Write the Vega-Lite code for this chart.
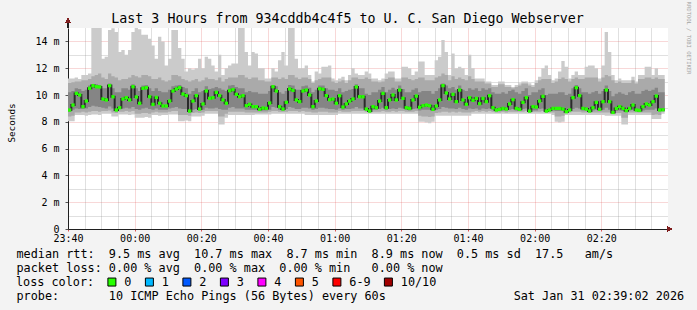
{
"$schema": "https://vega.github.io/schema/vega-lite/v6.json",
"autosize": {"type": "none"},
"padding": {"left": 68, "top": 28, "right": 29, "bottom": 81},
"width": 600,
"height": 201,
"background": "#f3f3f3",
"title": {"text": "Last 3 Hours from 934cddb4c4f5 to U. C. San Diego Webserver", "font": "DejaVu Sans Mono", "fontSize": 13.3, "fontWeight": "normal", "color": "#000000", "anchor": "middle", "frame": "group", "dx": -20.5, "offset": -35, "baseline": "alphabetic"},
"config": {
  "view": {"fill": "#ffffff", "stroke": null},
  "axis": {"labelFont": "DejaVu Sans Mono", "labelFontSize": 10, "labelColor": "#000000", "titleFont": "DejaVu Sans Mono", "titleFontWeight": "normal", "titleColor": "#000000"}
},
"data": {"values": [
{"m":0,"a":8.05,"b":8.4,"c":8.75,"d":10.2,"e":10.9,"f":11.24,"g":8.88},
{"m":1,"a":8.05,"b":8.45,"c":8.9,"d":10.3,"e":10.95,"f":11.24,"g":9.25},
{"m":2,"a":8.5,"b":8.7,"c":9.0,"d":10.5,"e":11.0,"f":11.3,"g":10.12},
{"m":3,"a":8.5,"b":8.7,"c":8.95,"d":10.45,"e":11.0,"f":11.2,"g":10.0},
{"m":4,"a":8.5,"b":8.75,"c":8.95,"d":10.3,"e":11.1,"f":11.5,"g":9.13},
{"m":5,"a":8.45,"b":8.7,"c":9.0,"d":10.4,"e":11.1,"f":11.5,"g":9.55},
{"m":6,"a":8.5,"b":8.75,"c":9.1,"d":10.7,"e":11.2,"f":11.6,"g":10.5},
{"m":7,"a":8.55,"b":8.8,"c":9.2,"d":10.8,"e":11.4,"f":15.0,"g":10.7},
{"m":8,"a":8.55,"b":8.8,"c":9.15,"d":10.8,"e":11.5,"f":15.0,"g":10.62},
{"m":9,"a":8.5,"b":8.75,"c":9.1,"d":10.75,"e":11.6,"f":15.0,"g":10.6},
{"m":10,"a":8.6,"b":8.8,"c":9.05,"d":10.5,"e":11.3,"f":12.7,"g":9.7},
{"m":11,"a":8.6,"b":8.8,"c":9.0,"d":10.5,"e":11.2,"f":12.85,"g":9.63},
{"m":12,"a":8.6,"b":8.85,"c":9.15,"d":10.85,"e":11.6,"f":14.85,"g":10.7},
{"m":13,"a":8.4,"b":8.7,"c":9.0,"d":10.5,"e":11.4,"f":14.98,"g":9.87},
{"m":14,"a":8.4,"b":8.65,"c":8.8,"d":10.2,"e":11.3,"f":14.7,"g":8.88},
{"m":15,"a":8.55,"b":8.75,"c":8.95,"d":10.2,"e":11.1,"f":13.2,"g":9.05},
{"m":16,"a":8.55,"b":8.75,"c":9.0,"d":10.5,"e":11.2,"f":13.35,"g":9.7},
{"m":17,"a":8.55,"b":8.8,"c":9.05,"d":10.5,"e":11.2,"f":13.0,"g":9.8},
{"m":18,"a":8.5,"b":8.75,"c":9.0,"d":10.4,"e":11.3,"f":13.35,"g":9.63},
{"m":19,"a":8.55,"b":8.8,"c":9.1,"d":10.8,"e":11.5,"f":14.7,"g":10.62},
{"m":20,"a":8.3,"b":8.6,"c":8.95,"d":10.5,"e":11.4,"f":15.0,"g":9.85},
{"m":21,"a":8.3,"b":8.6,"c":8.9,"d":10.3,"e":11.3,"f":14.9,"g":9.38},
{"m":22,"a":8.3,"b":8.65,"c":9.0,"d":10.7,"e":11.5,"f":14.5,"g":10.5},
{"m":23,"a":8.35,"b":8.65,"c":9.05,"d":10.75,"e":11.5,"f":14.5,"g":10.55},
{"m":24,"a":8.3,"b":8.6,"c":8.95,"d":10.5,"e":11.4,"f":14.2,"g":9.87},
{"m":25,"a":8.5,"b":8.7,"c":8.9,"d":10.3,"e":11.2,"f":13.7,"g":9.3},
{"m":26,"a":8.5,"b":8.75,"c":9.0,"d":10.5,"e":11.2,"f":12.7,"g":9.82},
{"m":27,"a":8.45,"b":8.7,"c":8.9,"d":10.3,"e":11.3,"f":14.35,"g":9.38},
{"m":28,"a":8.5,"b":8.7,"c":8.9,"d":10.2,"e":11.1,"f":14.0,"g":9.18},
{"m":29,"a":8.5,"b":8.7,"c":8.9,"d":10.2,"e":11.0,"f":12.2,"g":9.18},
{"m":30,"a":8.55,"b":8.75,"c":9.0,"d":10.4,"e":11.1,"f":12.7,"g":9.55},
{"m":31,"a":8.55,"b":8.8,"c":9.05,"d":10.65,"e":11.5,"f":14.85,"g":10.3},
{"m":32,"a":8.55,"b":8.8,"c":9.1,"d":10.7,"e":11.5,"f":14.85,"g":10.45},
{"m":33,"a":8.05,"b":8.5,"c":9.0,"d":10.75,"e":11.4,"f":13.5,"g":10.55},
{"m":34,"a":8.05,"b":8.5,"c":8.95,"d":10.6,"e":11.2,"f":12.7,"g":10.07},
{"m":35,"a":8.1,"b":8.5,"c":8.95,"d":10.5,"e":11.1,"f":11.75,"g":9.95},
{"m":36,"a":8.05,"b":8.45,"c":8.7,"d":10.1,"e":11.0,"f":12.0,"g":8.8},
{"m":37,"a":8.4,"b":8.65,"c":8.9,"d":10.3,"e":11.1,"f":11.9,"g":9.55},
{"m":38,"a":8.4,"b":8.7,"c":8.95,"d":10.5,"e":11.2,"f":12.0,"g":9.95},
{"m":39,"a":8.4,"b":8.65,"c":8.85,"d":10.2,"e":11.0,"f":12.7,"g":8.95},
{"m":40,"a":8.45,"b":8.7,"c":8.9,"d":10.3,"e":11.1,"f":12.0,"g":9.33},
{"m":41,"a":8.6,"b":8.8,"c":9.05,"d":10.65,"e":11.3,"f":12.85,"g":10.3},
{"m":42,"a":8.6,"b":8.8,"c":9.0,"d":10.45,"e":11.2,"f":12.7,"g":9.75},
{"m":43,"a":8.6,"b":8.8,"c":9.0,"d":10.5,"e":11.2,"f":12.2,"g":9.8},
{"m":44,"a":8.6,"b":8.8,"c":9.05,"d":10.6,"e":11.1,"f":11.75,"g":10.2},
{"m":45,"a":7.8,"b":8.4,"c":8.95,"d":10.5,"e":11.3,"f":13.0,"g":9.95},
{"m":46,"a":7.8,"b":8.4,"c":8.9,"d":10.4,"e":11.0,"f":11.5,"g":9.63},
{"m":47,"a":8.3,"b":8.6,"c":8.9,"d":10.3,"e":11.2,"f":12.0,"g":9.38},
{"m":48,"a":8.5,"b":8.75,"c":9.05,"d":10.7,"e":11.3,"f":12.2,"g":10.32},
{"m":49,"a":8.5,"b":8.75,"c":9.1,"d":10.75,"e":11.3,"f":12.35,"g":10.4},
{"m":50,"a":8.5,"b":8.75,"c":9.0,"d":10.6,"e":11.3,"f":12.35,"g":10.05},
{"m":51,"a":8.5,"b":8.75,"c":9.0,"d":10.5,"e":11.5,"f":15.0,"g":9.87},
{"m":52,"a":8.5,"b":8.75,"c":9.0,"d":10.5,"e":11.5,"f":15.0,"g":9.95},
{"m":53,"a":8.5,"b":8.7,"c":8.9,"d":10.2,"e":11.3,"f":13.2,"g":9.2},
{"m":54,"a":8.5,"b":8.7,"c":8.9,"d":10.3,"e":11.2,"f":12.2,"g":9.3},
{"m":55,"a":8.5,"b":8.7,"c":8.9,"d":10.2,"e":11.3,"f":13.2,"g":9.13},
{"m":56,"a":8.55,"b":8.7,"c":8.9,"d":10.2,"e":11.3,"f":13.1,"g":9.13},
{"m":57,"a":8.55,"b":8.7,"c":8.8,"d":10.1,"e":11.1,"f":12.0,"g":8.93},
{"m":58,"a":8.55,"b":8.7,"c":8.85,"d":10.1,"e":11.1,"f":12.0,"g":9.03},
{"m":59,"a":8.55,"b":8.7,"c":8.85,"d":10.1,"e":11.0,"f":11.24,"g":9.0},
{"m":60,"a":8.55,"b":8.75,"c":8.9,"d":10.3,"e":11.0,"f":11.24,"g":9.4},
{"m":61,"a":8.6,"b":8.8,"c":9.1,"d":10.75,"e":11.3,"f":12.0,"g":10.62},
{"m":62,"a":8.6,"b":8.8,"c":9.05,"d":10.65,"e":11.3,"f":11.75,"g":10.3},
{"m":63,"a":8.6,"b":8.75,"c":8.9,"d":10.2,"e":11.2,"f":12.6,"g":9.13},
{"m":64,"a":8.6,"b":8.75,"c":8.85,"d":10.1,"e":11.3,"f":13.2,"g":8.95},
{"m":65,"a":8.6,"b":8.75,"c":8.95,"d":10.3,"e":11.2,"f":12.2,"g":9.45},
{"m":66,"a":8.6,"b":8.8,"c":9.1,"d":10.75,"e":11.5,"f":15.0,"g":10.45},
{"m":67,"a":8.6,"b":8.8,"c":9.05,"d":10.7,"e":11.5,"f":15.0,"g":10.35},
{"m":68,"a":8.6,"b":8.8,"c":8.95,"d":10.4,"e":11.3,"f":12.7,"g":9.63},
{"m":69,"a":8.6,"b":8.75,"c":8.95,"d":10.4,"e":11.2,"f":12.0,"g":9.5},
{"m":70,"a":8.6,"b":8.8,"c":9.05,"d":10.65,"e":11.3,"f":12.0,"g":10.3},
{"m":71,"a":8.5,"b":8.75,"c":9.05,"d":10.7,"e":11.3,"f":12.2,"g":10.37},
{"m":72,"a":8.5,"b":8.75,"c":9.0,"d":10.55,"e":11.2,"f":11.5,"g":10.0},
{"m":73,"a":8.5,"b":8.7,"c":8.9,"d":10.2,"e":10.9,"f":11.0,"g":9.13},
{"m":74,"a":8.5,"b":8.7,"c":8.95,"d":10.4,"e":11.1,"f":11.75,"g":9.55},
{"m":75,"a":8.5,"b":8.75,"c":9.05,"d":10.7,"e":11.2,"f":11.6,"g":10.47},
{"m":76,"a":8.5,"b":8.75,"c":9.05,"d":10.7,"e":11.3,"f":12.1,"g":10.42},
{"m":77,"a":8.5,"b":8.75,"c":9.0,"d":10.5,"e":11.3,"f":12.1,"g":9.95},
{"m":78,"a":8.5,"b":8.7,"c":8.95,"d":10.4,"e":11.3,"f":12.2,"g":9.65},
{"m":79,"a":8.5,"b":8.7,"c":8.95,"d":10.4,"e":11.0,"f":11.24,"g":9.7},
{"m":80,"a":8.5,"b":8.7,"c":8.9,"d":10.3,"e":10.9,"f":11.1,"g":9.38},
{"m":81,"a":8.6,"b":8.8,"c":9.0,"d":10.5,"e":11.0,"f":11.24,"g":9.95},
{"m":82,"a":8.6,"b":8.75,"c":8.9,"d":10.2,"e":11.1,"f":11.37,"g":9.1},
{"m":83,"a":8.6,"b":8.75,"c":8.95,"d":10.3,"e":10.9,"f":11.1,"g":9.33},
{"m":84,"a":8.6,"b":8.75,"c":8.95,"d":10.4,"e":11.1,"f":11.5,"g":9.55},
{"m":85,"a":8.6,"b":8.8,"c":9.0,"d":10.45,"e":11.3,"f":12.0,"g":9.7},
{"m":86,"a":8.6,"b":8.8,"c":9.1,"d":10.8,"e":11.3,"f":11.6,"g":10.6},
{"m":87,"a":8.6,"b":8.8,"c":9.0,"d":10.5,"e":11.2,"f":11.5,"g":9.87},
{"m":88,"a":8.6,"b":8.8,"c":9.0,"d":10.5,"e":11.2,"f":11.5,"g":9.87},
{"m":89,"a":8.6,"b":8.75,"c":8.85,"d":10.1,"e":11.3,"f":11.75,"g":8.95},
{"m":90,"a":8.6,"b":8.7,"c":8.75,"d":10.0,"e":11.2,"f":11.6,"g":8.8},
{"m":91,"a":8.6,"b":8.75,"c":8.9,"d":10.2,"e":11.0,"f":11.24,"g":9.13},
{"m":92,"a":8.6,"b":8.75,"c":8.9,"d":10.2,"e":11.0,"f":11.24,"g":9.05},
{"m":93,"a":8.6,"b":8.75,"c":8.95,"d":10.4,"e":10.95,"f":11.1,"g":9.55},
{"m":94,"a":8.6,"b":8.8,"c":9.05,"d":10.6,"e":11.0,"f":11.24,"g":10.12},
{"m":95,"a":8.6,"b":8.75,"c":8.9,"d":10.2,"e":11.2,"f":11.6,"g":9.05},
{"m":96,"a":8.6,"b":8.75,"c":8.95,"d":10.4,"e":11.3,"f":11.75,"g":9.63},
{"m":97,"a":8.6,"b":8.8,"c":9.0,"d":10.55,"e":11.3,"f":11.75,"g":10.0},
{"m":98,"a":8.6,"b":8.75,"c":8.95,"d":10.4,"e":11.0,"f":11.24,"g":9.63},
{"m":99,"a":8.6,"b":8.8,"c":9.05,"d":10.7,"e":11.0,"f":11.24,"g":10.37},
{"m":100,"a":8.6,"b":8.8,"c":9.0,"d":10.45,"e":11.3,"f":12.1,"g":9.75},
{"m":101,"a":8.6,"b":8.75,"c":8.9,"d":10.2,"e":11.3,"f":12.1,"g":9.05},
{"m":102,"a":8.6,"b":8.75,"c":8.85,"d":10.2,"e":11.2,"f":12.0,"g":9.0},
{"m":103,"a":8.6,"b":8.75,"c":8.95,"d":10.4,"e":11.1,"f":11.5,"g":9.63},
{"m":104,"a":8.6,"b":8.8,"c":9.0,"d":10.5,"e":11.2,"f":11.75,"g":9.92},
{"m":105,"a":8.0,"b":8.45,"c":8.85,"d":10.2,"e":11.3,"f":12.5,"g":9.08},
{"m":106,"a":8.0,"b":8.4,"c":8.9,"d":10.3,"e":11.3,"f":12.5,"g":9.2},
{"m":107,"a":7.95,"b":8.4,"c":8.9,"d":10.3,"e":11.1,"f":11.5,"g":9.25},
{"m":108,"a":7.9,"b":8.35,"c":8.9,"d":10.3,"e":11.1,"f":11.5,"g":9.2},
{"m":109,"a":8.0,"b":8.4,"c":8.8,"d":10.1,"e":11.1,"f":11.5,"g":8.93},
{"m":110,"a":8.45,"b":8.65,"c":8.9,"d":10.3,"e":11.3,"f":12.6,"g":9.18},
{"m":111,"a":8.45,"b":8.7,"c":8.95,"d":10.5,"e":11.4,"f":12.85,"g":9.63},
{"m":112,"a":8.45,"b":8.75,"c":9.1,"d":10.85,"e":11.6,"f":14.1,"g":10.7},
{"m":113,"a":8.45,"b":8.75,"c":9.05,"d":10.7,"e":11.5,"f":13.2,"g":10.15},
{"m":114,"a":8.45,"b":8.7,"c":9.0,"d":10.5,"e":11.1,"f":11.5,"g":9.7},
{"m":115,"a":8.45,"b":8.75,"c":9.0,"d":10.6,"e":11.4,"f":13.1,"g":10.05},
{"m":116,"a":8.45,"b":8.7,"c":8.95,"d":10.4,"e":11.2,"f":12.0,"g":9.5},
{"m":117,"a":8.45,"b":8.75,"c":9.05,"d":10.7,"e":11.3,"f":12.1,"g":10.37},
{"m":118,"a":8.45,"b":8.7,"c":8.95,"d":10.4,"e":11.2,"f":12.0,"g":9.63},
{"m":119,"a":8.45,"b":8.7,"c":8.9,"d":10.3,"e":11.1,"f":11.5,"g":9.3},
{"m":120,"a":8.45,"b":8.7,"c":9.0,"d":10.5,"e":11.4,"f":13.0,"g":9.8},
{"m":121,"a":8.6,"b":8.75,"c":8.95,"d":10.4,"e":11.2,"f":12.0,"g":9.6},
{"m":122,"a":8.6,"b":8.8,"c":9.0,"d":10.5,"e":11.0,"f":11.24,"g":9.75},
{"m":123,"a":8.6,"b":8.75,"c":8.9,"d":10.3,"e":11.0,"f":11.24,"g":9.35},
{"m":124,"a":8.6,"b":8.8,"c":9.0,"d":10.5,"e":11.0,"f":11.24,"g":9.75},
{"m":125,"a":8.6,"b":8.75,"c":8.95,"d":10.4,"e":10.85,"f":11.0,"g":9.5},
{"m":126,"a":8.6,"b":8.8,"c":9.0,"d":10.5,"e":10.85,"f":11.0,"g":9.95},
{"m":127,"a":8.6,"b":8.75,"c":8.9,"d":10.2,"e":10.6,"f":10.75,"g":9.05},
{"m":128,"a":8.6,"b":8.7,"c":8.8,"d":10.1,"e":10.6,"f":10.75,"g":8.88},
{"m":129,"a":8.6,"b":8.7,"c":8.8,"d":10.1,"e":10.8,"f":11.0,"g":8.93},
{"m":130,"a":8.6,"b":8.75,"c":8.85,"d":10.2,"e":10.8,"f":11.0,"g":9.0},
{"m":131,"a":8.6,"b":8.7,"c":8.85,"d":10.1,"e":10.6,"f":10.75,"g":8.95},
{"m":132,"a":8.6,"b":8.75,"c":8.9,"d":10.3,"e":10.6,"f":10.75,"g":9.33},
{"m":133,"a":8.6,"b":8.75,"c":8.95,"d":10.4,"e":10.5,"f":10.6,"g":9.65},
{"m":134,"a":8.6,"b":8.75,"c":8.85,"d":10.2,"e":10.6,"f":10.75,"g":9.0},
{"m":135,"a":8.6,"b":8.75,"c":8.85,"d":10.1,"e":10.7,"f":10.87,"g":8.93},
{"m":136,"a":8.6,"b":8.75,"c":8.95,"d":10.3,"e":10.85,"f":11.0,"g":9.45},
{"m":137,"a":8.6,"b":8.8,"c":9.0,"d":10.5,"e":10.85,"f":11.0,"g":9.8},
{"m":138,"a":8.6,"b":8.7,"c":8.75,"d":10.0,"e":10.7,"f":10.87,"g":8.8},
{"m":139,"a":8.6,"b":8.75,"c":8.85,"d":10.2,"e":10.6,"f":10.75,"g":9.13},
{"m":140,"a":8.6,"b":8.75,"c":8.85,"d":10.2,"e":10.9,"f":11.1,"g":9.1},
{"m":141,"a":8.6,"b":8.75,"c":8.95,"d":10.4,"e":11.1,"f":11.37,"g":9.55},
{"m":142,"a":8.6,"b":8.8,"c":9.0,"d":10.5,"e":11.2,"f":12.0,"g":9.9},
{"m":143,"a":8.6,"b":8.7,"c":8.75,"d":10.0,"e":11.2,"f":12.2,"g":8.8},
{"m":144,"a":8.6,"b":8.7,"c":8.8,"d":10.1,"e":11.2,"f":11.5,"g":8.88},
{"m":145,"a":8.5,"b":8.7,"c":8.85,"d":10.1,"e":10.9,"f":11.1,"g":9.0},
{"m":146,"a":8.0,"b":8.4,"c":8.8,"d":10.1,"e":11.0,"f":11.24,"g":9.0},
{"m":147,"a":7.95,"b":8.4,"c":8.8,"d":10.2,"e":11.2,"f":11.75,"g":9.0},
{"m":148,"a":8.0,"b":8.45,"c":8.8,"d":10.2,"e":11.3,"f":12.54,"g":8.95},
{"m":149,"a":8.5,"b":8.65,"c":8.7,"d":10.0,"e":11.2,"f":12.1,"g":8.75},
{"m":150,"a":8.5,"b":8.7,"c":8.8,"d":10.1,"e":11.0,"f":11.24,"g":8.88},
{"m":151,"a":8.5,"b":8.75,"c":8.95,"d":10.5,"e":11.2,"f":11.5,"g":9.8},
{"m":152,"a":8.5,"b":8.75,"c":9.05,"d":10.75,"e":11.3,"f":11.75,"g":10.55},
{"m":153,"a":8.5,"b":8.75,"c":9.0,"d":10.5,"e":11.2,"f":11.5,"g":9.95},
{"m":154,"a":8.5,"b":8.7,"c":8.85,"d":10.2,"e":11.2,"f":11.5,"g":9.0},
{"m":155,"a":8.5,"b":8.7,"c":8.85,"d":10.2,"e":11.3,"f":12.1,"g":8.95},
{"m":156,"a":8.5,"b":8.7,"c":8.75,"d":10.1,"e":11.3,"f":12.2,"g":8.8},
{"m":157,"a":8.5,"b":8.7,"c":8.85,"d":10.2,"e":11.3,"f":12.2,"g":9.05},
{"m":158,"a":8.5,"b":8.7,"c":8.9,"d":10.3,"e":11.3,"f":12.0,"g":9.45},
{"m":159,"a":8.5,"b":8.7,"c":8.8,"d":10.1,"e":11.0,"f":11.24,"g":8.93},
{"m":160,"a":8.5,"b":8.7,"c":8.9,"d":10.3,"e":11.3,"f":12.2,"g":9.5},
{"m":161,"a":8.45,"b":8.7,"c":9.05,"d":10.7,"e":11.5,"f":14.7,"g":10.37},
{"m":162,"a":8.45,"b":8.7,"c":8.9,"d":10.3,"e":11.4,"f":13.2,"g":9.5},
{"m":163,"a":8.45,"b":8.6,"c":8.65,"d":9.9,"e":11.1,"f":11.5,"g":8.7},
{"m":164,"a":8.45,"b":8.65,"c":8.8,"d":10.1,"e":10.9,"f":11.1,"g":9.0},
{"m":165,"a":8.45,"b":8.65,"c":8.85,"d":10.2,"e":11.0,"f":11.24,"g":9.13},
{"m":166,"a":7.8,"b":8.3,"c":8.8,"d":10.1,"e":10.9,"f":11.1,"g":9.0},
{"m":167,"a":7.8,"b":8.3,"c":8.75,"d":10.0,"e":10.9,"f":11.1,"g":8.83},
{"m":168,"a":8.5,"b":8.7,"c":8.85,"d":10.2,"e":10.9,"f":11.1,"g":9.0},
{"m":169,"a":8.5,"b":8.7,"c":8.9,"d":10.3,"e":11.1,"f":11.37,"g":9.25},
{"m":170,"a":8.5,"b":8.7,"c":8.8,"d":10.1,"e":10.85,"f":11.0,"g":8.88},
{"m":171,"a":8.5,"b":8.7,"c":8.8,"d":10.1,"e":11.2,"f":11.5,"g":8.85},
{"m":172,"a":8.5,"b":8.7,"c":8.85,"d":10.3,"e":11.2,"f":11.5,"g":9.13},
{"m":173,"a":8.5,"b":8.7,"c":8.9,"d":10.4,"e":11.3,"f":12.1,"g":9.33},
{"m":174,"a":8.5,"b":8.7,"c":8.9,"d":10.3,"e":11.3,"f":12.1,"g":9.25},
{"m":175,"a":8.2,"b":8.5,"c":8.9,"d":10.4,"e":11.2,"f":11.5,"g":9.5},
{"m":176,"a":8.2,"b":8.55,"c":9.0,"d":10.55,"e":11.3,"f":12.0,"g":9.92},
{"m":177,"a":8.2,"b":8.5,"c":8.8,"d":10.2,"e":11.2,"f":11.5,"g":8.88},
{"m":178,"a":8.6,"b":8.75,"c":8.8,"d":10.2,"e":11.2,"f":11.5,"g":8.9},
{"m":179,"a":8.6,"b":8.75,"c":8.8,"d":10.2,"e":11.2,"f":11.5,"g":8.9}
]},
"resolve": {"axis": {"x": "independent", "y": "independent"}},
"layer": [
  {
    "mark": {"type": "area", "interpolate": "step-after", "orient": "vertical", "color": "#cbcbcb"},
    "encoding": {
      "x": {"field": "m", "type": "quantitative", "scale": {"domain": [0, 180], "nice": false, "zero": false},
        "axis": {"orient": "bottom", "values": [5,10,15,25,30,35,45,50,55,65,70,75,85,90,95,105,110,115,125,130,135,145,150,155,165,170,175], "grid": true, "gridColor": "#8f8f8f", "gridOpacity": 0.55, "gridDash": [1, 1], "labels": false, "ticks": false, "domain": false, "title": null}},
      "y": {"field": "a", "type": "quantitative", "scale": {"domain": [0, 15], "nice": false, "zero": false},
        "axis": {"orient": "left", "values": [1,3,5,7,9,11,13], "grid": true, "gridColor": "#8f8f8f", "gridOpacity": 0.55, "gridDash": [1, 1], "labels": false, "ticks": false, "domain": false, "title": null}},
      "y2": {"field": "f"}
    }
  },
  {
    "mark": {"type": "area", "interpolate": "step-after", "orient": "vertical", "color": "#aaaaaa"},
    "encoding": {
      "x": {"field": "m", "type": "quantitative",
        "axis": {"orient": "bottom", "values": [0,20,40,60,80,100,120,140,160], "grid": true, "gridColor": "#de5050", "gridOpacity": 0.45, "gridDash": [1, 1],
          "labelExpr": "timeFormat(datetime(2026, 0, 30, 23, 40 + datum.value), '%H:%M')", "labelFlush": false, "labelOverlap": false,
          "ticks": true, "tickSize": 2, "tickColor": "#de5050", "labelPadding": 2, "domain": true, "domainColor": "#1f1f1f",
          "title": ["median\u00a0rtt:\u00a0\u00a09.5\u00a0ms\u00a0avg\u00a0\u00a010.7\u00a0ms\u00a0max\u00a0\u00a08.7\u00a0ms\u00a0min\u00a0\u00a08.9\u00a0ms\u00a0now\u00a0\u00a00.5\u00a0ms\u00a0sd\u00a0\u00a017.5\u00a0\u00a0\u00a0am/s",
                    "packet\u00a0loss:\u00a00.00\u00a0%\u00a0avg\u00a0\u00a00.00\u00a0%\u00a0max\u00a0\u00a00.00\u00a0%\u00a0min\u00a0\u00a0\u00a00.00\u00a0%\u00a0now",
                    "\u200b",
                    "probe:\u00a0\u00a0\u00a0\u00a0\u00a0\u00a0\u00a010\u00a0ICMP\u00a0Echo\u00a0Pings\u00a0(56\u00a0Bytes)\u00a0every\u00a060s\u00a0\u00a0\u00a0\u00a0\u00a0\u00a0\u00a0\u00a0\u00a0\u00a0\u00a0\u00a0\u00a0\u00a0\u00a0\u00a0\u00a0\u00a0Sat\u00a0Jan\u00a031\u00a002:39:02\u00a02026"],
          "titleFontSize": 11.8, "titleAnchor": "start", "titleAlign": "left", "titleX": -52, "titleY": 28.5, "titleBaseline": "alphabetic", "titleLineHeight": 14, "titleLimit": 2000}},
      "y": {"field": "b", "type": "quantitative",
        "axis": {"orient": "left", "values": [0,2,4,6,8,10,12,14], "grid": true, "gridColor": "#de5050", "gridOpacity": 0.45, "gridDash": [1, 1],
          "labelExpr": "datum.value == 0 ? '0' : datum.value + ' m'", "labelFlush": false, "labelOverlap": false,
          "ticks": true, "tickSize": 3, "tickColor": "#555555", "labelPadding": 6, "domain": true, "domainColor": "#1f1f1f",
          "title": "Seconds", "titleFontSize": 9.3, "titleX": -54, "titleY": 94.5, "titleAngle": 270, "titleAlign": "center", "titleBaseline": "alphabetic"}},
      "y2": {"field": "e"}
    }
  },
  {
    "mark": {"type": "area", "interpolate": "step-after", "orient": "vertical", "color": "#858585"},
    "encoding": {
      "x": {"field": "m", "type": "quantitative", "axis": null},
      "y": {"field": "c", "type": "quantitative",
        "axis": {"orient": "right", "grid": false, "labels": false, "ticks": false, "domain": false,
          "title": "RRDTOOL / TOBI OETIKER", "titleFont": "DejaVu Sans Mono", "titleFontSize": 5.5, "titleColor": "#a3a3a3", "titleAngle": 90, "titleX": 20, "titleY": 9.5, "titleAlign": "center", "titleBaseline": "middle"}},
      "y2": {"field": "d"}
    }
  },
  {
    "mark": {"type": "line", "interpolate": "step-after", "color": "#2a2a2a", "strokeWidth": 2},
    "encoding": {
      "x": {"field": "m", "type": "quantitative", "axis": null},
      "y": {"field": "g", "type": "quantitative", "axis": null}
    }
  },
  {
    "transform": [{"filter": "datum.m < 179"}],
    "mark": {"type": "point", "shape": "square", "filled": true, "size": 11, "opacity": 1, "xOffset": 1.67},
    "encoding": {
      "x": {"field": "m", "type": "quantitative", "axis": null},
      "y": {"field": "g", "type": "quantitative", "axis": null},
      "color": {"datum": "0", "type": "nominal",
        "scale": {"domain": ["0", "1", "2", "3", "4", "5", "6-9", "10/10"], "range": ["#26ff00", "#00b8ff", "#0059ff", "#7e00ff", "#ff00ff", "#ff5500", "#ff0000", "#a10000"]},
        "legend": {"title": "loss color:", "orient": "none", "legendX": -52, "legendY": 248, "direction": "horizontal", "titleOrient": "left",
          "titleFont": "DejaVu Sans Mono", "titleFontSize": 11.8, "titleFontWeight": "normal", "titleColor": "#000000", "titlePadding": 11,
          "labelFont": "DejaVu Sans Mono", "labelFontSize": 11.8, "labelColor": "#000000", "labelOffset": 6.5, "labelLimit": 0,
          "symbolType": "square", "symbolSize": 64, "symbolOpacity": 1, "symbolStrokeWidth": 1, "symbolStrokeColor": "#000000",
          "columnPadding": 10.5, "padding": 0, "offset": 0,
          "encode": {"symbols": {"update": {"stroke": {"value": "#000000"}, "strokeWidth": {"value": 1}, "opacity": {"value": 1}}}}}}
    }
  },
  {
    "mark": {"type": "rule", "color": "#1f1f1f", "strokeWidth": 1},
    "encoding": {
      "x": {"datum": 0, "type": "quantitative", "axis": null},
      "y": {"datum": 15, "type": "quantitative", "axis": null},
      "y2": {"datum": 15.5}
    }
  },
  {
    "mark": {"type": "point", "shape": "triangle-up", "filled": true, "size": 22, "color": "#7f1f1f", "opacity": 1},
    "encoding": {
      "x": {"datum": 0, "type": "quantitative", "axis": null},
      "y": {"datum": 15.55, "type": "quantitative", "axis": null}
    }
  },
  {
    "mark": {"type": "point", "shape": "triangle-right", "filled": true, "size": 22, "color": "#7f1f1f", "opacity": 1},
    "encoding": {
      "x": {"datum": 180.5, "type": "quantitative", "axis": null},
      "y": {"datum": 0, "type": "quantitative", "axis": null}
    }
  }
]
}
